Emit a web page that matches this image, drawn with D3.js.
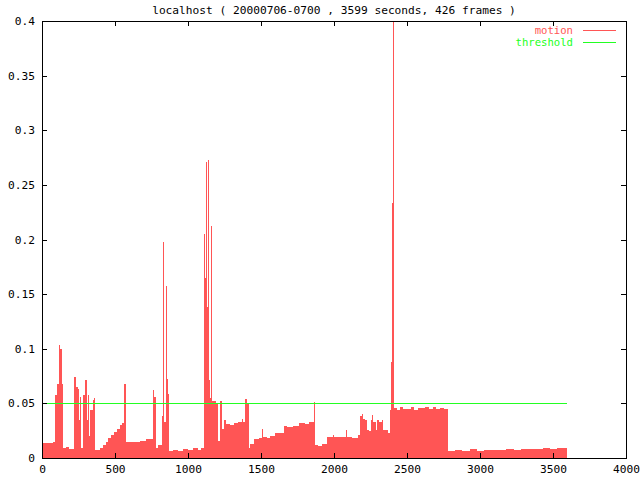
<!DOCTYPE html>
<html>
<head>
<meta charset="utf-8">
<script src="https://cdn.jsdelivr.net/npm/d3@7"></script>
<style>
  body { margin: 0; background: #fff; }
  text { font-family: "DejaVu Sans Mono", "Liberation Mono", monospace; font-size: 11.2px; }
</style>
</head>
<body>
<svg id="chart" width="640" height="480" viewBox="0 0 640 480"></svg>
<script>
// frame times (seconds) and motion level
const secs = [0, 30, 60, 75, 89, 101, 114, 123, 135, 142, 164, 185, 221, 233, 245, 250, 257, 267, 279, 297,
  306, 313, 322, 331, 347, 358, 366, 397, 418, 435, 452, 473, 493, 514, 534, 551, 564, 573, 623, 671,
  712, 757, 767, 783, 794, 820, 827, 834, 847, 854, 861, 868, 897, 931, 966, 1000, 1034, 1068, 1089, 1110,
  1116, 1125, 1130, 1137, 1142, 1151, 1160, 1164, 1190, 1208, 1219, 1235, 1247, 1258, 1290, 1315, 1345, 1370, 1377, 1392,
  1404, 1416, 1427, 1450, 1484, 1507, 1514, 1541, 1564, 1598, 1655, 1678, 1720, 1758, 1800, 1830, 1861, 1872, 1890, 1918,
  1952, 1995, 2003, 2040, 2080, 2087, 2120, 2166, 2178, 2190, 2201, 2212, 2224, 2242, 2251, 2262, 2269, 2286, 2296, 2310,
  2327, 2338, 2372, 2383, 2390, 2397, 2404, 2409, 2430, 2450, 2475, 2500, 2525, 2550, 2575, 2600, 2625, 2650, 2675, 2700,
  2725, 2750, 2779, 2783, 2830, 2880, 2930, 2980, 3030, 3080, 3130, 3180, 3230, 3280, 3330, 3380, 3430, 3480, 3530, 3599];
const motion = [0.0135, 0.014, 0.0135, 0.0145, 0.058, 0.068, 0.103, 0.100, 0.068, 0.009, 0.0105, 0.0085, 0.074, 0.065, 0.063, 0.035, 0.056, 0.009, 0.058, 0.071,
  0.035, 0.058, 0.02, 0.044, 0.053, 0.055, 0.007, 0.009, 0.012, 0.015, 0.018, 0.021, 0.024, 0.027, 0.030, 0.032, 0.068, 0.015, 0.0145, 0.016,
  0.017, 0.062, 0.056, 0.009, 0.012, 0.038, 0.198, 0.033, 0.157, 0.072, 0.059, 0.0065, 0.0075, 0.0065, 0.008, 0.007, 0.009, 0.0075, 0.009, 0.205,
  0.165, 0.271, 0.138, 0.273, 0.071, 0.055, 0.212, 0.052, 0.05, 0.016, 0.052, 0.027, 0.035, 0.031, 0.0305, 0.032, 0.033, 0.036, 0.033, 0.054,
  0.05, 0.009, 0.013, 0.017, 0.018, 0.027, 0.019, 0.018, 0.02, 0.0226, 0.029, 0.028, 0.029, 0.032, 0.031, 0.033, 0.0515, 0.012, 0.011, 0.0125,
  0.019, 0.0215, 0.019, 0.0195, 0.0256, 0.019, 0.0185, 0.021, 0.038, 0.040, 0.036, 0.035, 0.026, 0.025, 0.035, 0.039, 0.033, 0.026, 0.035, 0.033,
  0.035, 0.0256, 0.023, 0.044, 0.088, 0.233, 0.41, 0.0455, 0.044, 0.0465, 0.0445, 0.045, 0.0465, 0.044, 0.046, 0.0455, 0.047, 0.045, 0.0465, 0.0445,
  0.046, 0.045, 0.0506, 0.0065, 0.0075, 0.006, 0.0085, 0.0065, 0.007, 0.0075, 0.007, 0.008, 0.0075, 0.008, 0.0085, 0.008, 0.009, 0.0085, 0.0095, 0.0095];
const threshold = 0.05;
const xTicks = [0, 500, 1000, 1500, 2000, 2500, 3000, 3500, 4000];
const yTicks = [0, 0.05, 0.1, 0.15, 0.2, 0.25, 0.3, 0.35, 0.4];
const seriesNames = ["motion", "threshold"];
const title = "localhost ( 20000706-0700 , 3599 seconds, 426 frames )";

const svg = d3.select("#chart");
const plotL = 42, plotR = 626, plotT = 21, plotB = 458;
const red = "#ff5555", green = "#22ff22";

const x = d3.scaleLinear().domain([0, 4000]).range([plotL, plotR]);
const y = d3.scaleLinear().domain([0, 0.4]).range([plotB, plotT]);

const data = secs.map((t, i) => ({t: t, v: motion[i]}));

svg.append("clipPath").attr("id", "plot")
  .append("rect")
  .attr("x", plotL).attr("y", plotT)
  .attr("width", plotR - plotL).attr("height", plotB - plotT);

// motion, drawn as filled steps
const area = d3.area()
  .curve(d3.curveStepAfter)
  .x(d => x(d.t))
  .y0(y(0))
  .y1(d => y(d.v));

svg.append("path")
  .datum(data)
  .attr("clip-path", "url(#plot)")
  .attr("fill", red)
  .attr("shape-rendering", "crispEdges")
  .attr("d", area);

// threshold line
svg.append("line")
  .attr("x1", x(0)).attr("x2", x(3599))
  .attr("y1", Math.round(y(threshold)) + 0.5).attr("y2", Math.round(y(threshold)) + 0.5)
  .attr("stroke", green)
  .attr("stroke-width", 1.2)
  .attr("shape-rendering", "crispEdges");

// axes (ticks inward, mirrored like gnuplot)
const tickLen = 5;
const axisX = d3.axisBottom(x).tickValues(xTicks).tickSize(0).tickPadding(5).tickFormat(d3.format("d"));
const axisY = d3.axisLeft(y).tickValues(yTicks).tickSize(0).tickPadding(7)
  .tickFormat(d => d === 0 ? "0" : String(+d.toFixed(2)));

const gx = svg.append("g").attr("transform", `translate(0,${plotB})`).call(axisX);
const gy = svg.append("g").attr("transform", `translate(${plotL},0)`).call(axisY);
[gx, gy].forEach(g => {
  g.select(".domain").remove();
  g.selectAll("text").attr("fill", "#000").style("font-family", "DejaVu Sans Mono").style("font-size", "11.2px");
});
gx.selectAll("text").attr("dy", "0.9em");

const ticks = svg.append("g").attr("stroke", "#000").attr("shape-rendering", "crispEdges");
xTicks.slice(1, -1).forEach(t => {
  const px = Math.round(x(t)) + 0.5;
  ticks.append("line").attr("x1", px).attr("x2", px).attr("y1", plotB).attr("y2", plotB - tickLen);
  ticks.append("line").attr("x1", px).attr("x2", px).attr("y1", plotT).attr("y2", plotT + tickLen);
});
yTicks.slice(1, -1).forEach(v => {
  const py = Math.round(y(v)) + 0.5;
  ticks.append("line").attr("x1", plotL).attr("x2", plotL + tickLen).attr("y1", py).attr("y2", py);
  ticks.append("line").attr("x1", plotR).attr("x2", plotR - tickLen).attr("y1", py).attr("y2", py);
});

// border
svg.append("rect")
  .attr("x", plotL + 0.5).attr("y", plotT + 0.5)
  .attr("width", plotR - plotL).attr("height", plotB - plotT)
  .attr("fill", "none").attr("stroke", "#000")
  .attr("shape-rendering", "crispEdges");

// title
svg.append("text")
  .attr("x", (plotL + plotR) / 2).attr("y", 14)
  .attr("text-anchor", "middle")
  .text(title);

// legend
const legendColors = [red, green];
seriesNames.forEach((name, i) => {
  const ly = 30 + i * 12;
  svg.append("text")
    .attr("x", 573).attr("y", ly).attr("dy", "0.35em")
    .attr("text-anchor", "end")
    .attr("fill", legendColors[i])
    .style("font-size", "10.6px")
    .text(name);
  svg.append("line")
    .attr("x1", 583).attr("x2", 616)
    .attr("y1", ly + 0.5).attr("y2", ly + 0.5)
    .attr("stroke", legendColors[i])
    .attr("shape-rendering", "crispEdges");
});
</script>
</body>
</html>
